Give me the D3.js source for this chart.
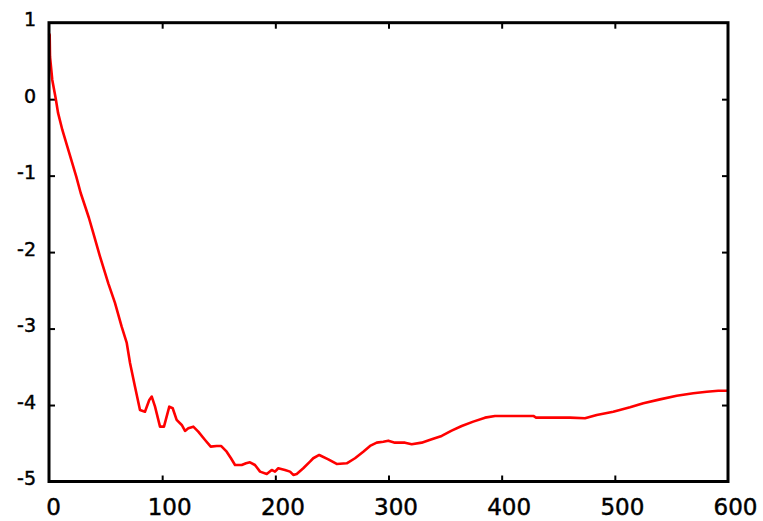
<!DOCTYPE html>
<html>
<head>
<meta charset="utf-8">
<script src="https://cdn.jsdelivr.net/npm/d3@7"></script>
<style>
  html, body { margin: 0; padding: 0; background: #fff; }
  svg { display: block; }
  .tick text { font-family: "DejaVu Sans", sans-serif; fill: #000; stroke: #000; stroke-width: 0.45px; }
</style>
</head>
<body>
<svg id="chart" width="763" height="521"></svg>
<script>
// Sample positions along the horizontal axis
const xValues = [0, 0.6, 0.9, 2.9, 5.9, 8.0, 11.8, 16.2, 19.7, 24.1, 28.0, 32.4, 35.3, 39.1, 45.1, 52.4,
  58.3, 64.2, 68.7, 71.6, 76.0, 80.4, 84.8, 88.6, 90.8, 93.7, 98.1, 101.6, 106.3, 109.3, 112.8,
  117.3, 120.2, 123.1, 127.5, 131.9, 137.9, 142.9, 148.2, 152.0, 157.0, 160.8, 164.4, 170.3,
  174.1, 177.6, 182.0, 186.5, 192.4, 196.8, 199.7, 202.6, 208.5, 213.0, 215.9, 218.9, 224.7,
  230.6, 233.5, 238.8, 246.8, 254.2, 263.1, 270.4, 277.7, 283.7, 289.6, 295.4, 299.8, 305.7,
  314.6, 320.5, 329.3, 338.2, 347.0, 355.8, 364.7, 374.9, 385.3, 394.1, 407.4, 428.0, 430.4,
  460.4, 473.6, 484.0, 498.6, 513.4, 525.2, 539.9, 554.7, 569.3, 581.2, 591.4, 600];

// Series values at each sample
const yValues = [0.86, 0.84, 0.556, 0.251, 0.012, -0.18, -0.403, -0.621, -0.795, -1.013, -1.227, -1.423,
  -1.554, -1.750, -2.060, -2.408, -2.665, -2.975, -3.188, -3.450, -3.760, -4.065, -4.087, -3.934,
  -3.890, -4.021, -4.283, -4.283, -4.021, -4.042, -4.195, -4.261, -4.339, -4.304, -4.283, -4.348,
  -4.457, -4.544, -4.535, -4.535, -4.610, -4.696, -4.784, -4.784, -4.762, -4.749, -4.784, -4.871,
  -4.901, -4.849, -4.871, -4.827, -4.849, -4.871, -4.914, -4.901, -4.827, -4.741, -4.696, -4.653,
  -4.710, -4.771, -4.762, -4.696, -4.610, -4.535, -4.492, -4.479, -4.466, -4.492, -4.492, -4.513,
  -4.492, -4.448, -4.404, -4.335, -4.274, -4.217, -4.165, -4.143, -4.143, -4.143, -4.165, -4.165,
  -4.173, -4.130, -4.087, -4.030, -3.978, -3.926, -3.878, -3.847, -3.826, -3.813, -3.813];

const xTicks = [0, 100, 200, 300, 400, 500, 600];
const yTicks = [1, 0, -1, -2, -3, -4, -5];

const width = 763, height = 521;
const margin = { top: 22.7, right: 35, bottom: 39.5, left: 49 };
const innerW = width - margin.left - margin.right;
const innerH = height - margin.top - margin.bottom;

const svg = d3.select("#chart");
const g = svg.append("g").attr("transform", `translate(${margin.left},${margin.top})`);

const x = d3.scaleLinear().domain([0, 600]).range([0, innerW]);
const y = d3.scaleLinear().domain([-5, 1]).range([innerH, 0]);

const points = xValues.map((v, i) => [v, yValues[i]]);
const plain = d => String(d); // hyphen-minus labels

// Inward ticks on all four sides
const inner = [100, 200, 300, 400, 500];
const innerY = [0, -1, -2, -3, -4];

const bottom = g.append("g").attr("transform", `translate(0,${innerH})`)
  .call(d3.axisBottom(x).tickValues(xTicks).tickSize(-6).tickPadding(17).tickFormat(plain));
bottom.selectAll(".tick text")
  .style("font-size", "23px")
  .attr("dx", d => String(d).length > 1 ? 7 : 4);

const left = g.append("g")
  .call(d3.axisLeft(y).tickValues(yTicks).tickSize(-6).tickPadding(13).tickFormat(plain));
left.selectAll(".tick text").style("font-size", "19px").attr("dy", "0.16em");

g.append("g")
  .call(d3.axisTop(x).tickValues(inner).tickSize(-6).tickFormat(""));
g.append("g").attr("transform", `translate(${innerW},0)`)
  .call(d3.axisRight(y).tickValues(innerY).tickSize(-6).tickFormat(""));

g.selectAll(".domain").remove();
g.selectAll(".tick line").attr("stroke", "#000").attr("stroke-width", 2);
// ticks at the frame corners are hidden by the frame itself
bottom.selectAll(".tick line").filter(d => d === 0 || d === 600).remove();
left.selectAll(".tick line").filter(d => d === 1 || d === -5).remove();

// Data line
g.append("path")
  .datum(points)
  .attr("fill", "none")
  .attr("stroke", "#ff0000")
  .attr("stroke-width", 2.6)
  .attr("stroke-linejoin", "round")
  .attr("d", d3.line().x(d => x(d[0])).y(d => y(d[1])));

// Frame
g.append("rect")
  .attr("x", 0).attr("y", 0)
  .attr("width", innerW).attr("height", innerH)
  .attr("fill", "none")
  .attr("stroke", "#000")
  .attr("stroke-width", 3);
</script>
</body>
</html>
